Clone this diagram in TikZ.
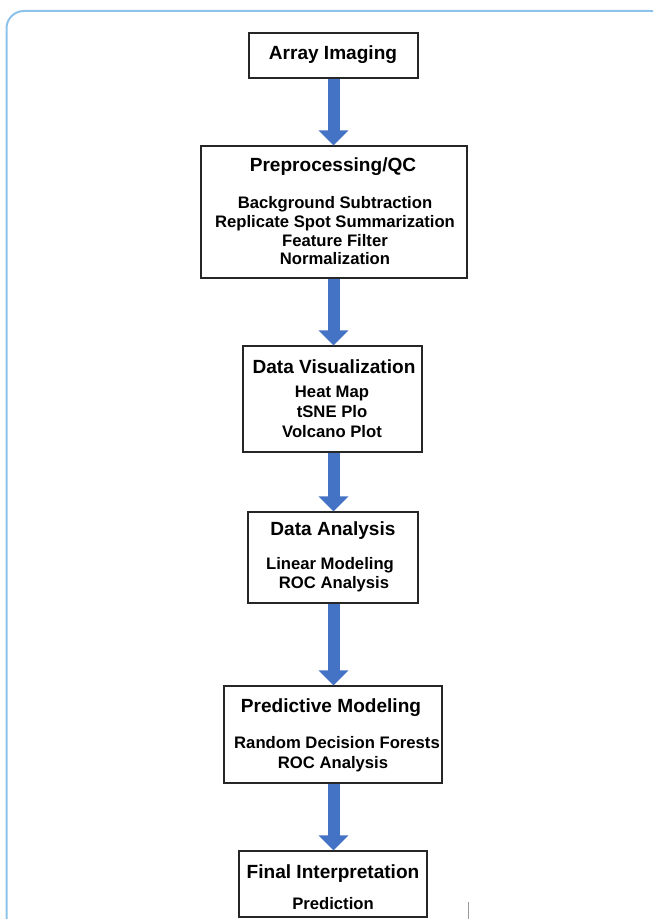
\documentclass[tikz,border=0pt]{standalone}
\usepackage{fontspec}
\setmainfont{Liberation Sans}
\usetikzlibrary{arrows.meta}
\definecolor{framecol}{HTML}{8DC3EA}
\definecolor{arrowblue}{HTML}{4472C4}
\tikzset{
  box/.style={draw=black!85, line width=1pt, inner sep=0pt, fill=white},
  ttl/.style={anchor=base, inner sep=0pt, font=\fontsize{14.3pt}{17pt}\selectfont\bfseries},
  bdy/.style={anchor=base, inner sep=0pt, font=\fontsize{12.5pt}{15pt}\selectfont\bfseries},
  blockarrow/.style={draw=arrowblue, line width=9pt,
    -{Triangle[length=11.25pt, width=21.75pt, fill=arrowblue]}}
}
\begin{document}
\begin{tikzpicture}[x=0.75pt, y=-0.75pt]
\useasboundingbox (0,0) rectangle (653,919);
\begin{scope}
\clip (0,0) rectangle (653,919);
\draw[framecol, line width=1.5pt, rounded corners=13pt] (6.5,11) rectangle (668,960);
\end{scope}

% boxes
\node[box, minimum width=126.75pt, minimum height=33.75pt] (b1) at (333.5,55.5) {};
\node[box, minimum width=199.5pt, minimum height=99pt] (b2) at (334,212) {};
\node[box, minimum width=134.25pt, minimum height=79.5pt] (b3) at (332.5,399) {};
\node[box, minimum width=127.5pt, minimum height=68.25pt] (b4) at (333,557.5) {};
\node[box, minimum width=163.5pt, minimum height=72.75pt] (b5) at (333,734.5) {};
\node[box, minimum width=141pt, minimum height=49.5pt] (b6) at (333,884) {};

% texts
\node[ttl] (t1) at (333,60) {Array Imaging};

\node[ttl] (t2) at (333,172) {Preprocessing/QC};
\node[bdy] (t2a) at (335,209) {Background Subtraction};
\node[bdy] (t2b) at (335,227.5) {Replicate Spot Summarization};
\node[bdy] (t2c) at (335,246.5) {Feature Filter};
\node[bdy] (t2d) at (335,265) {Normalization};

\node[ttl] (t3) at (334,373) {Data Visualization};
\node[bdy] (t3a) at (332,397) {Heat Map};
\node[bdy] (t3b) at (332,417) {tSNE Plo};
\node[bdy] (t3c) at (332,437) {Volcano Plot};

\node[ttl] (t4) at (333,535.5) {Data Analysis};
\node[bdy] (t4a) at (330,569) {Linear Modeling};
\node[bdy] (t4b) at (334,588) {ROC Analysis};

\node[ttl] (t5) at (331,712.5) {Predictive Modeling};
\node[bdy] (t5a) at (337,748.5) {Random Decision Forests};
\node[bdy] (t5b) at (333,768) {ROC Analysis};

\node[ttl] (t6) at (333,878) {Final Interpretation};
\node[bdy] (t6a) at (333,909) {Prediction};

% arrows
\coordinate (ax) at (333.5,0);
\draw[blockarrow] (ax |- b1.south) -- (ax |- b2.north);
\draw[blockarrow] (ax |- b2.south) -- (ax |- b3.north);
\draw[blockarrow] (ax |- b3.south) -- (ax |- b4.north);
\draw[blockarrow] (ax |- b4.south) -- (ax |- b5.north);
\draw[blockarrow] (ax |- b5.south) -- (ax |- b6.north);

% stray mark
\draw[black!40, line width=0.75pt] (468,902) -- (468,919);
\end{tikzpicture}
\end{document}
